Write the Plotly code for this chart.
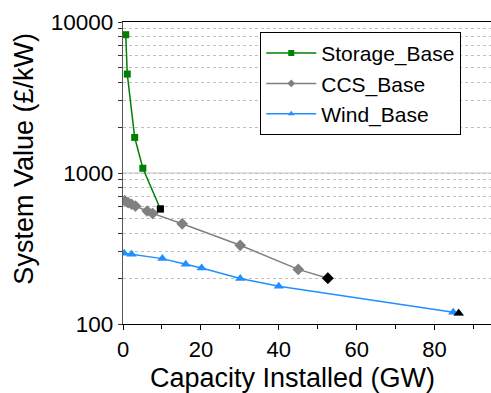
import plotly.graph_objects as go

storage_x = [0.7, 1.1, 3.0, 5.1, 9.6]
storage_y = [8240, 4520, 1720, 1075, 578]

ccs_x = [0.45, 1.3, 2.2, 3.2, 6.2, 7.6, 15.2, 30.1, 45.0, 52.6]
ccs_y = [656, 636, 621, 604, 560, 540, 461, 332, 230, 201]

wind_x = [0.3, 2.2, 10.1, 16.1, 20.2, 30.1, 40.0, 84.8, 86.2]
wind_y = [294, 290, 271, 249, 235, 200, 178, 119.5, 118]

series = [
    ("Storage_Base", storage_x, storage_y, "#008000", "square", 7),
    ("CCS_Base", ccs_x, ccs_y, "#808080", "diamond", 9),
    ("Wind_Base", wind_x, wind_y, "#1E90FF", "triangle-up", 9),
]

major_vals = [100, 1000, 10000]
major_text = ["100", "1000", "10000"]
all_vals = sorted(major_vals + [m * 10 ** e for e in (2, 3) for m in range(2, 10)])
all_text = [major_text[major_vals.index(v)] if v in major_vals else "" for v in all_vals]

x_title = "Capacity Installed (GW)"
y_title = "System Value (£/kW)"

FONT = "Liberation Sans, Arial, sans-serif"

fig = go.Figure()
# solid major gridline at 1000
fig.add_shape(type="line", xref="paper", x0=0, x1=1, yref="y", y0=1000, y1=1000,
              line=dict(color="#c4c4c4", width=1.2), layer="below")

for name, xs, ys, col, sym, sz in series:
    fig.add_trace(go.Scatter(
        x=xs, y=ys, name=name, mode="lines+markers", showlegend=False,
        line=dict(color=col, width=1.5),
        marker=dict(color=col, symbol=sym, size=sz),
    ))
for name, xs, ys, col, sym, sz in series:
    fig.add_trace(go.Scatter(
        x=xs[-1:], y=ys[-1:], mode="markers", showlegend=False,
        marker=dict(color="black", symbol=sym, size=sz),
    ))
# legend entries (smaller legend markers, as in the original)
for name, xs, ys, col, sym, sz in series:
    fig.add_trace(go.Scatter(
        x=[None], y=[None], name=name, mode="lines+markers",
        line=dict(color=col, width=1.5),
        marker=dict(color=col, symbol=sym, size=6),
    ))

fig.add_annotation(text=x_title, xref="paper", yref="paper", x=0.4615, y=-0.179,
                   xanchor="center", yanchor="middle", showarrow=False,
                   borderpad=0, font=dict(size=27))
fig.add_annotation(text=y_title, xref="paper", yref="paper", x=-0.270, y=0.5464,
                   xanchor="center", yanchor="middle", showarrow=False,
                   borderpad=0, textangle=-90, font=dict(size=27))

fig.update_layout(
    width=491, height=393,
    margin=dict(l=123, r=0, t=22, b=69),
    paper_bgcolor="white", plot_bgcolor="white",
    font=dict(family=FONT, color="black", size=22),
    showlegend=True,
    legend=dict(
        x=0.373, y=0.967, xanchor="left", yanchor="top",
        bordercolor="black", borderwidth=1, bgcolor="white",
        font=dict(size=21), tracegroupgap=0, itemwidth=50,
    ),
    xaxis=dict(
        range=[0, 94.5], dtick=20, tick0=0,
        showgrid=False, zeroline=False,
        showline=True, linecolor="black", linewidth=1.3, mirror=True,
        ticks="outside", ticklen=5, tickcolor="black", tickwidth=1,
        minor=dict(dtick=10, ticks="outside", ticklen=4, tickcolor="black"),
        tickfont=dict(size=22),
        automargin=False,
    ),
    yaxis=dict(
        type="log", range=[2, 4],
        tickmode="array", tickvals=all_vals, ticktext=all_text,
        showgrid=True, gridcolor="#c0c0c0", gridwidth=1, griddash="dot",
        zeroline=False,
        showline=True, linecolor="#555555", linewidth=1.3,
        ticks="outside", ticklen=4, tickcolor="#333333", tickwidth=1,
        tickfont=dict(size=22.5),
        automargin=False,
    ),
)

fig.write_html("out.html")
